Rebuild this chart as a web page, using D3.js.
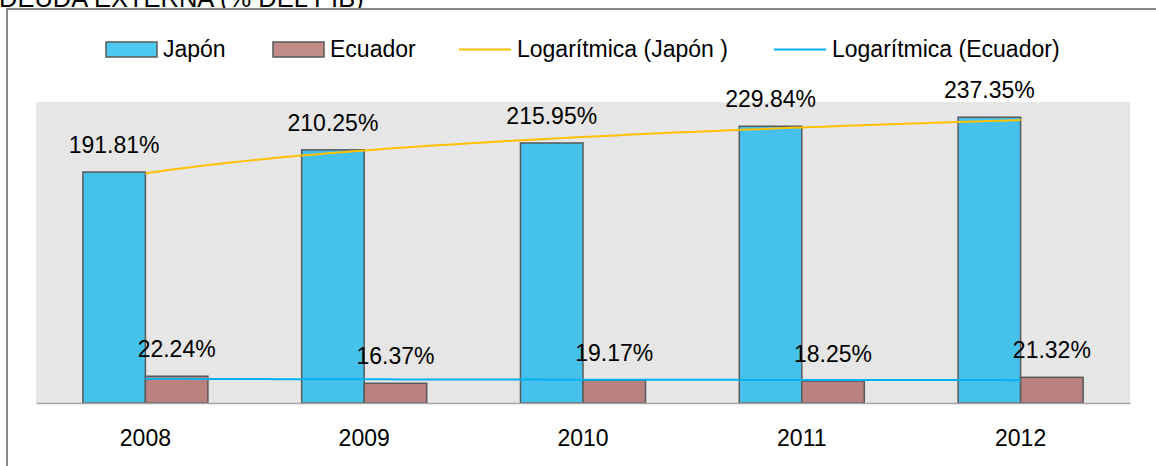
<!DOCTYPE html>
<html>
<head>
<meta charset="utf-8">
<script src="https://cdn.jsdelivr.net/npm/d3@7"></script>
<style>
  body { margin: 0; background: #fff; }
  text { font-family: "Liberation Sans", Arial, sans-serif; fill: #000; }
</style>
</head>
<body>
<div id="chart"></div>
<script>
var years = ["2008", "2009", "2010", "2011", "2012"];
var japon = [191.81, 210.25, 215.95, 229.84, 237.35];
var ecuador = [22.24, 16.37, 19.17, 18.25, 21.32];
var seriesNames = ["Japón", "Ecuador"];
var seriesColors = ["#46C1EC", "#B9827F"];
var legendColors = ["#4CC9F1", "#C28C89"];
var trendColors = ["#FFC000", "#00B0F0"];
var trendNames = ["Logarítmica (Japón )", "Logarítmica (Ecuador)"];

var svgWidth = 1156;
var svgHeight = 466;

var plot = { left: 36, right: 1130, top: 102, bottom: 403 };

var svg = d3.select("#chart")
  .append("svg")
  .attr("width", svgWidth)
  .attr("height", svgHeight);

// title, mostly cut off at the top edge
svg.append("text")
  .attr("x", -1)
  .attr("y", 7)
  .style("font-size", "25.5px")
  .text("DEUDA EXTERNA (% DEL PIB)");

// chart area border (runs off the right and bottom)
svg.append("rect")
  .attr("x", 7)
  .attr("y", 9)
  .attr("width", 1300)
  .attr("height", 600)
  .attr("fill", "#fff")
  .attr("stroke", "#868686")
  .attr("stroke-width", 2);

// plot background
svg.append("rect")
  .attr("x", plot.left)
  .attr("y", plot.top)
  .attr("width", plot.right - plot.left)
  .attr("height", plot.bottom - plot.top)
  .attr("fill", "#E6E6E6");

var x0 = d3.scaleBand()
  .domain(years)
  .range([plot.left, plot.right])
  .padding(0);

var x1 = d3.scaleBand()
  .domain(seriesNames)
  .range([0, x0.bandwidth()])
  .paddingInner(0)
  .paddingOuter(0.75);

var y = d3.scaleLinear()
  .domain([0, 250])
  .range([plot.bottom, plot.top]);

var rows = years.map(function(yr, i) {
  return { year: yr, values: [japon[i], ecuador[i]] };
});

var groups = svg.selectAll(".group")
  .data(rows)
  .enter()
  .append("g")
  .attr("class", "group")
  .attr("transform", d => `translate(${x0(d.year)},0)`);

groups.selectAll("rect")
  .data(d => d.values.map((v, k) => ({ name: seriesNames[k], value: v, k: k })))
  .enter()
  .append("rect")
  .attr("x", d => x1(d.name))
  .attr("y", d => y(d.value))
  .attr("width", x1.bandwidth())
  .attr("height", d => y(0) - y(d.value))
  .attr("fill", d => seriesColors[d.k])
  .attr("stroke", "#595959")
  .attr("stroke-width", 1.5);

// x axis
var xAxis = svg.append("g")
  .attr("transform", `translate(0, ${plot.bottom})`)
  .call(d3.axisBottom(x0).tickSize(0).tickPadding(27));

xAxis.select(".domain")
  .attr("stroke", "#A6A6A6")
  .attr("stroke-width", 1.5);

xAxis.selectAll("text")
  .style("font-size", "23px")
  .style("font-family", "'Liberation Sans', Arial, sans-serif")
  .attr("fill", "#000");

// logarithmic trend lines (least squares on ln(x), x = 1..n)
function logFit(values) {
  var lx = values.map((v, i) => Math.log(i + 1));
  var mx = d3.mean(lx), my = d3.mean(values);
  var sxy = d3.sum(values, (v, i) => (lx[i] - mx) * (v - my));
  var sxx = d3.sum(lx, l => (l - mx) * (l - mx));
  var b = sxy / sxx;
  var a = my - b * mx;
  return t => a + b * Math.log(t);
}

var xt = d3.scaleLinear()
  .domain([1, years.length])
  .range([x0(years[0]) + x0.bandwidth() / 2, x0(years[years.length - 1]) + x0.bandwidth() / 2]);

var tSteps = d3.range(1, years.length + 0.001, 0.05);

[japon, ecuador].forEach(function(vals, k) {
  var f = logFit(vals);
  svg.append("path")
    .datum(tSteps)
    .attr("fill", "none")
    .attr("stroke", trendColors[k])
    .attr("stroke-width", 2)
    .attr("d", d3.line().x(t => xt(t)).y(t => y(f(t))));
});

// data labels
groups.selectAll(".lbl")
  .data(d => d.values.map((v, k) => ({ name: seriesNames[k], value: v })))
  .enter()
  .append("text")
  .attr("class", "lbl")
  .attr("x", d => x1(d.name) + x1.bandwidth() / 2)
  .attr("y", d => y(d.value) - 19)
  .attr("text-anchor", "middle")
  .style("font-size", "23px")
  .text(d => d.value.toFixed(2) + "%");

// legend
var legendY = 57;
var legend = svg.append("g");

var swatchX = [106, 273];
seriesNames.forEach(function(name, k) {
  legend.append("rect")
    .attr("x", swatchX[k])
    .attr("y", 42)
    .attr("width", 51)
    .attr("height", 15)
    .attr("fill", legendColors[k])
    .attr("stroke", "#595959")
    .attr("stroke-width", 1.5);
  legend.append("text")
    .attr("x", swatchX[k] + 57)
    .attr("y", legendY)
    .style("font-size", "23px")
    .text(name);
});

var lineX = [459, 774];
trendNames.forEach(function(name, k) {
  legend.append("line")
    .attr("x1", lineX[k])
    .attr("x2", lineX[k] + 52)
    .attr("y1", 49.5)
    .attr("y2", 49.5)
    .attr("stroke", trendColors[k])
    .attr("stroke-width", 2);
  legend.append("text")
    .attr("x", lineX[k] + 58)
    .attr("y", legendY)
    .style("font-size", "23px")
    .text(name);
});
</script>
</body>
</html>
